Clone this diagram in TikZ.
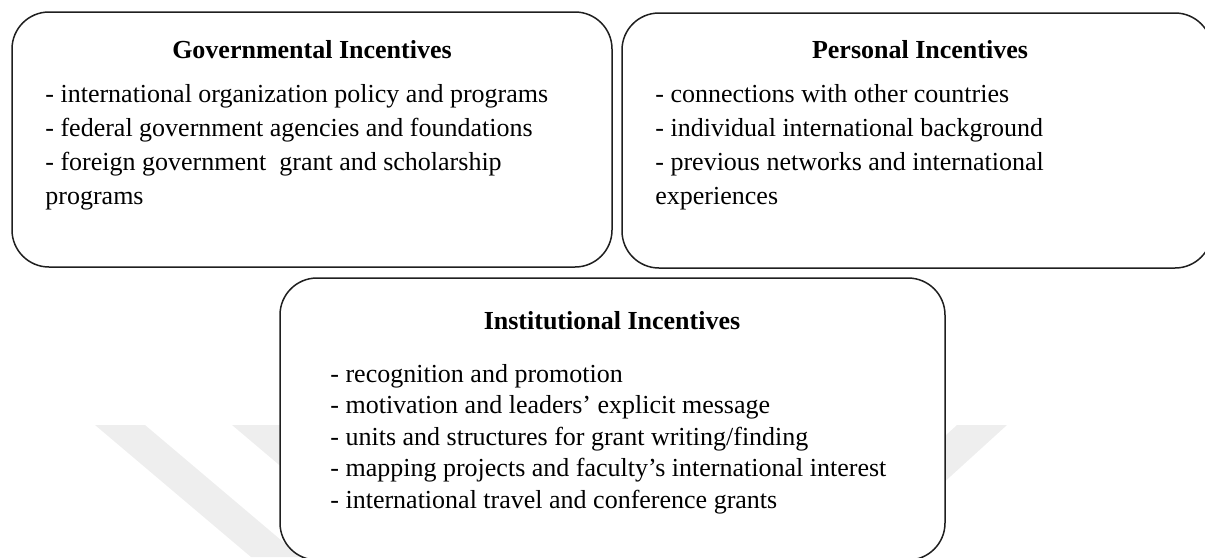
\documentclass[tikz,border=0pt]{standalone}
\usepackage{fontspec}
\setmainfont{Liberation Serif}
\usetikzlibrary{fit}
\definecolor{wmark}{gray}{0.935}
\definecolor{edge}{gray}{0.12}
\begin{document}
\begin{tikzpicture}[x=0.5pt,y=-0.5pt,
  panel/.style={draw=edge, line width=0.75pt, rounded corners=18.5pt, fill=white, inner sep=0pt},
  head/.style={font=\fontsize{13}{17}\selectfont\bfseries, inner sep=0pt, anchor=base},
  item/.style={font=\fontsize{13}{17}\selectfont, inner sep=0pt, anchor=base west},
]
\useasboundingbox (0,0) rectangle (1205,557);
\clip (0,0) rectangle (1205,557);

% faint background emblem bands
\fill[wmark] (95,425) -- (145,425) -- (301,557) -- (251,557) -- cycle;
\fill[wmark] (232,425) -- (282,425) -- (438,557) -- (388,557) -- cycle;
\fill[wmark] (957,425) -- (1007,425) -- (862,557) -- (812,557) -- cycle;

% the three panels
\node[panel, fit={(12,12) (612,267)}] (gov) {};
\node[panel, fit={(622,13) (1212,268)}] (pers) {};
\node[panel, fit={(280,278) (945,560)}] (inst) {};

% governmental incentives
\node[head] (govT) at (312,58) {Governmental Incentives};
\node[item] (gov1) at (45,102) {- international organization policy and programs};
\node[item] (gov2) at (45,136) {- federal government agencies and foundations};
\node[item] (gov3) at (45,170) {- foreign government\ \ grant and scholarship};
\node[item] (gov4) at (45,204) {programs};

% personal incentives
\node[head] (persT) at (920,58) {Personal Incentives};
\node[item] (pers1) at (655,102) {- connections with other countries};
\node[item] (pers2) at (655,136) {- individual international background};
\node[item] (pers3) at (655,170) {- previous networks and international};
\node[item] (pers4) at (655,204) {experiences};

% institutional incentives
\node[head] (instT) at (612,329) {Institutional Incentives};
\node[item] (inst1) at (330,382) {- recognition and promotion};
\node[item] (inst2) at (330,413.5) {- motivation and leaders’ explicit message};
\node[item] (inst3) at (330,445) {- units and structures for grant writing/finding};
\node[item] (inst4) at (330,476.5) {- mapping projects and faculty’s international interest};
\node[item] (inst5) at (330,508) {- international travel and conference grants};
\end{tikzpicture}
\end{document}
